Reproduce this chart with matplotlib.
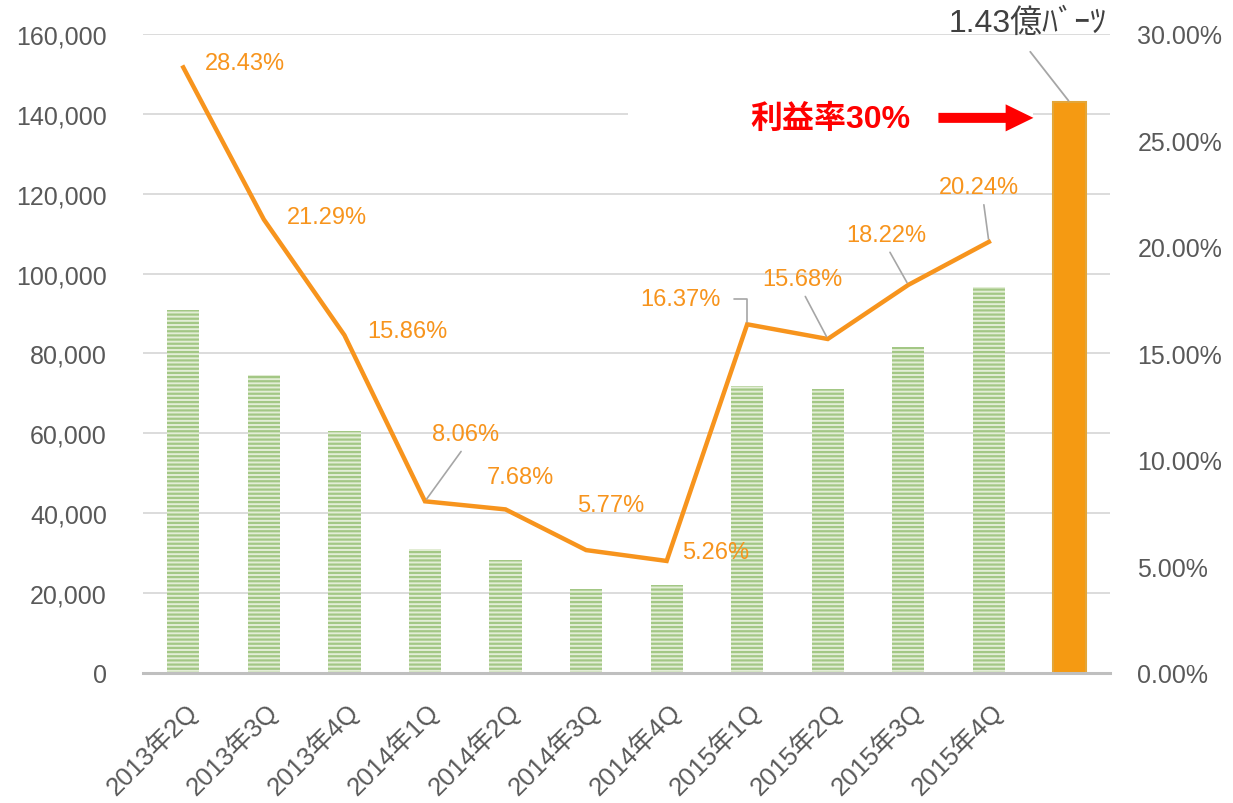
import matplotlib
matplotlib.use("Agg")
import matplotlib.pyplot as plt
from matplotlib.patches import Rectangle
from matplotlib.transforms import offset_copy

plt.rcParams['font.family'] = ['Liberation Sans', 'Noto Sans CJK JP', 'DejaVu Sans']
plt.rcParams['hatch.linewidth'] = 1.6

categories = ['2013年2Q', '2013年3Q', '2013年4Q', '2014年1Q', '2014年2Q', '2014年3Q',
              '2014年4Q', '2015年1Q', '2015年2Q', '2015年3Q', '2015年4Q', '']
profit = [91000, 74600, 60600, 31000, 28300, 21000, 22000, 71900, 71100, 81600, 96700]
target_profit = 143000
margin = [28.43, 21.29, 15.86, 8.06, 7.68, 5.77, 5.26, 16.37, 15.68, 18.22, 20.24]
margin_labels = ['28.43%', '21.29%', '15.86%', '8.06%', '7.68%', '5.77%', '5.26%',
                 '16.37%', '15.68%', '18.22%', '20.24%']
left_ticks = [0, 20000, 40000, 60000, 80000, 100000, 120000, 140000, 160000]
right_ticks = [0, 5, 10, 15, 20, 25, 30]
target_label = '1.43億ﾊﾞｰﾂ'
target_note = '利益率30%'

GRAY = '#595959'
ORANGE = '#F7941D'

fig = plt.figure(figsize=(12.33, 8.04), dpi=100)
ax = fig.add_axes([0.116, 0.1617, 0.784, 0.7948])
ax2 = ax.twinx()

x = list(range(len(categories)))
ax.bar(x[:len(profit)], profit, width=0.4, facecolor='#e3eed6', edgecolor='#a3c785',
       linewidth=0, hatch='----', zorder=2)
ax.bar([x[-1]], [target_profit], width=0.4, color='#F59A12', edgecolor='#e2a63a',
       linewidth=1.5, zorder=2)

ax.set_xlim(-0.5, len(categories) - 0.5)
ax.set_ylim(0, 160000)
ax.set_yticks(left_ticks)
ax.set_yticklabels([f'{v:,}' for v in left_ticks])
ax.set_xticks(x)
ax.set_xticklabels(categories, rotation=45, ha='right', va='top', rotation_mode='anchor')
ax.grid(axis='y', color='#d9d9d9', linewidth=1.3, zorder=0)
ax.set_axisbelow(True)
for s in ['top', 'left', 'right']:
    ax.spines[s].set_visible(False)
ax.spines['bottom'].set_color('#bfbfbf')
ax.spines['bottom'].set_linewidth(2.2)
ax.tick_params(axis='both', length=0, colors=GRAY, labelsize=18)
ax.tick_params(axis='y', pad=26)
ax.tick_params(axis='x', pad=17, labelsize=18.5)

ax2.plot(x[:len(margin)], margin, color=ORANGE, linewidth=3.2, solid_joinstyle='miter', zorder=3)
ax2.set_ylim(0, 30)
ax2.set_yticks(right_ticks)
ax2.set_yticklabels([f'{v:.2f}%' for v in right_ticks])
for s in ['top', 'left', 'right', 'bottom']:
    ax2.spines[s].set_visible(False)
ax2.tick_params(axis='y', length=0, colors=GRAY, labelsize=18, pad=20)

# white gap in the 140,000 gridline behind the note
ax.add_patch(Rectangle((0.5016, 0.866), 0.419, 0.018, transform=ax.transAxes,
                       facecolor='white', edgecolor='none', zorder=1))

# data labels: (dx, dy, ha, leader, relpos, connectionstyle, shrinkA)
offsets = [
    (22, 4, 'left', False, None, None, 0),
    (23, 3, 'left', False, None, None, 0),
    (23, 4, 'left', False, None, None, 0),
    (7, 67, 'left', True, (0.5, 0.0), 'arc3', 3),
    (-19, 32, 'left', False, None, None, 0),
    (-9, 45, 'left', False, None, None, 0),
    (15, 9, 'left', False, None, None, 0),
    (-27, 25, 'right', True, (1.0, 0.5), 'angle,angleA=0,angleB=90,rad=0', 8),
    (-66, 60, 'left', True, (0.5, 0.0), 'arc3', 3),
    (-62, 50, 'left', True, (0.5, 0.0), 'arc3', 3),
    (-50, 55, 'left', True, (0.55, 0.0), 'arc3', 3),
]
for i, (v, lab) in enumerate(zip(margin, margin_labels)):
    dx, dy, ha, leader, relpos, cs, sa = offsets[i]
    kw = {}
    if leader:
        kw['arrowprops'] = dict(arrowstyle='-', color='#a6a6a6', lw=1.2, relpos=relpos,
                                connectionstyle=cs, shrinkA=sa, shrinkB=2)
    ax2.annotate(lab, xy=(i, v), xytext=(dx, dy), textcoords='offset pixels',
                 ha=ha, va='center', color=ORANGE, fontsize=17, zorder=5, **kw)

# target bar label
ax2.annotate(target_label, xy=(x[-1], target_profit * 30 / 160000), xytext=(-42, 79),
             textcoords='offset pixels', ha='center', va='center', color='#404040',
             fontsize=23,
             arrowprops=dict(arrowstyle='-', color='#a6a6a6', lw=1.3, relpos=(0.45, 0.0),
                             shrinkA=10, shrinkB=1))

# red note + arrow
tip = offset_copy(ax.transData, fig=fig, x=-36, y=-16, units='dots')
ax.annotate('', xy=(x[-1], target_profit), xycoords=tip, xytext=(-95, 0),
            textcoords='offset pixels',
            arrowprops=dict(arrowstyle='simple,head_length=2.0,head_width=1.95,tail_width=0.72',
                            color='#FF0000', lw=0, shrinkA=0, shrinkB=0), zorder=6)
ax.annotate(target_note, xy=(x[-1], target_profit), xytext=(-159, -17),
            textcoords='offset pixels', ha='right', va='center', color='#FF0000',
            fontsize=23, fontweight='bold', zorder=6)

fig.savefig('out.png', dpi=100)
